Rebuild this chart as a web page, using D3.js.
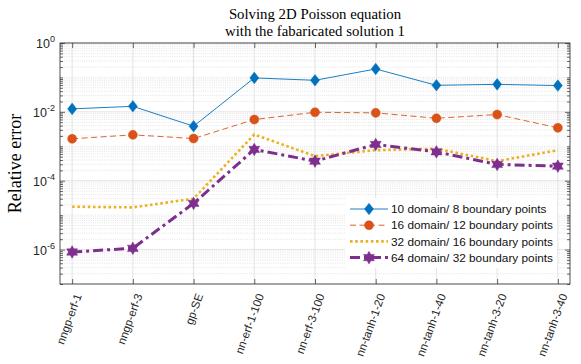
<!DOCTYPE html>
<html>
<head>
<meta charset="utf-8">
<script src="https://cdn.jsdelivr.net/npm/d3@7"></script>
<style>
  body { margin: 0; background: #fff; }
  svg { display: block; }
</style>
</head>
<body>
<div id="chart"></div>
<script>
const categories = ["nngp-erf-1", "nngp-erf-3", "gp-SE", "nn-erf-1-100", "nn-erf-3-100",
  "nn-tanh-1-20", "nn-tanh-1-40", "nn-tanh-3-20", "nn-tanh-3-40"]

const pts10 = [0.0122, 0.0145, 0.00383, 0.0968, 0.0825, 0.176, 0.059, 0.063, 0.058]
const pts16 = [0.00165, 0.00215, 0.00168, 0.00598, 0.00973, 0.00935, 0.00652, 0.00835, 0.00344]
const pts32 = [1.76e-5, 1.68e-5, 3.0e-5, 0.0022, 5.2e-4, 7.7e-4, 8.5e-4, 3.7e-4, 7.7e-4]
const pts64 = [8.5e-7, 1.09e-6, 2.2e-5, 8.1e-4, 3.7e-4, 1.13e-3, 6.9e-4, 2.97e-4, 2.65e-4]

const seriesNames = ["10 domain/ 8 boundary points", "16 domain/ 12 boundary points",
  "32 domain/ 16 boundary points", "64 domain/ 32 boundary points"]
const yTickValues = [1e0, 1e-2, 1e-4, 1e-6]
const titleLines = ["Solving 2D Poisson equation", "with the fabaricated solution 1"]

const width = 581
const height = 364
const margin = { left: 60, right: 11, top: 43, bottom: 80 }

const svg = d3.select("#chart")
  .append("svg")
  .attr("width", width)
  .attr("height", height)

const x = d3.scaleLinear()
  .domain([0.8, categories.length + 0.2])
  .range([margin.left, width - margin.right])

const y = d3.scaleLog()
  .domain([1e-7, 1])
  .range([height - margin.bottom, margin.top])

const x0 = x.range()[0], x1 = x.range()[1]
const y0 = y.range()[0], y1 = y.range()[1]

// grid
const minorVals = []
for (let e = -7; e < 0; e++) {
  for (let k = 1; k <= 9; k++) {
    const v = k * Math.pow(10, e)
    if (!(k === 1 && e % 2 === 0)) minorVals.push(v)
  }
}

const grid = svg.append("g")
grid.selectAll(".minor")
  .data(minorVals)
  .join("line")
  .attr("x1", x0).attr("x2", x1)
  .attr("y1", d => y(d)).attr("y2", d => y(d))
  .attr("stroke", "#d4d4d4")
  .attr("stroke-width", 0.6)
  .attr("stroke-dasharray", "1,1.2")

grid.selectAll(".major")
  .data(yTickValues)
  .join("line")
  .attr("x1", x0).attr("x2", x1)
  .attr("y1", d => y(d)).attr("y2", d => y(d))
  .attr("stroke", "#e3e3e3")
  .attr("stroke-width", 1)

grid.selectAll(".xgrid")
  .data(categories)
  .join("line")
  .attr("x1", (d, i) => x(i + 1)).attr("x2", (d, i) => x(i + 1))
  .attr("y1", y0).attr("y2", y1)
  .attr("stroke", "#e3e3e3")
  .attr("stroke-width", 1)

// axes with inward ticks
const axisColor = "#262626"
const yAxisL = d3.axisLeft(y).tickValues(yTickValues).tickSize(-5).tickFormat("")
const yAxisR = d3.axisRight(y).tickValues(yTickValues).tickSize(-5).tickFormat("")
const yMinorL = d3.axisLeft(y).tickValues(minorVals).tickSize(-3).tickFormat("")
const yMinorR = d3.axisRight(y).tickValues(minorVals).tickSize(-3).tickFormat("")
const xAxisB = d3.axisBottom(x).tickValues(d3.range(1, categories.length + 1)).tickSize(-5).tickFormat("")
const xAxisT = d3.axisTop(x).tickValues(d3.range(1, categories.length + 1)).tickSize(-5).tickFormat("")

function styleAxis(g) {
  g.selectAll("path, line").attr("stroke", axisColor).attr("stroke-width", 0.7)
  g.select(".domain").remove()
}

svg.append("g").attr("transform", `translate(${x0},0)`).call(yAxisL).call(styleAxis)
svg.append("g").attr("transform", `translate(${x1},0)`).call(yAxisR).call(styleAxis)
svg.append("g").attr("transform", `translate(${x0},0)`).call(yMinorL).call(styleAxis)
svg.append("g").attr("transform", `translate(${x1},0)`).call(yMinorR).call(styleAxis)
svg.append("g").attr("transform", `translate(0,${y0})`).call(xAxisB).call(styleAxis)
svg.append("g").attr("transform", `translate(0,${y1})`).call(xAxisT).call(styleAxis)

svg.append("rect")
  .attr("x", x0).attr("y", y1)
  .attr("width", x1 - x0).attr("height", y0 - y1)
  .attr("fill", "none")
  .attr("stroke", axisColor)
  .attr("stroke-width", 0.8)

// y tick labels
const yLab = svg.append("g")
  .attr("font-family", "Liberation Sans, Arial, sans-serif")
  .attr("fill", axisColor)
yTickValues.forEach(v => {
  const e = Math.round(Math.log10(v))
  const t = yLab.append("text")
    .attr("x", x0 - 5)
    .attr("y", y(v) + 5)
    .attr("text-anchor", "end")
    .attr("font-size", 12.5)
  t.append("tspan").text("10")
  t.append("tspan").attr("dy", -6).attr("font-size", 9).text(e === 0 ? "0" : "-" + (-e))
})

// x tick labels
svg.append("g")
  .selectAll("text")
  .data(categories)
  .join("text")
  .attr("transform", (d, i) => `translate(${x(i + 1) + 6},${y0 + 10}) rotate(-70)`)
  .attr("text-anchor", "end")
  .attr("dy", "0.35em")
  .attr("font-family", "Liberation Sans, Arial, sans-serif")
  .attr("font-size", 11.5)
  .attr("fill", axisColor)
  .text(d => d)

// title and y label
svg.append("g")
  .selectAll("text")
  .data(titleLines)
  .join("text")
  .attr("x", (x0 + x1) / 2)
  .attr("y", (d, i) => 19 + i * 16.5)
  .attr("text-anchor", "middle")
  .attr("font-family", "Liberation Serif, Times New Roman, serif")
  .attr("font-size", 14.8)
  .attr("fill", "#000")
  .text(d => d)

svg.append("text")
  .attr("transform", `translate(21,${(y0 + y1) / 2}) rotate(-90)`)
  .attr("text-anchor", "middle")
  .attr("font-family", "Liberation Serif, Times New Roman, serif")
  .attr("font-size", 18)
  .attr("fill", "#000")
  .text("Relative error")

// symbols
const diamondType = {
  draw(ctx, size) {
    const w = Math.sqrt(size) * 0.45, h = Math.sqrt(size) * 0.58
    ctx.moveTo(0, -h); ctx.lineTo(w, 0); ctx.lineTo(0, h); ctx.lineTo(-w, 0); ctx.closePath()
  }
}
const hexagramType = {
  draw(ctx, size) {
    const ro = Math.sqrt(size) * 0.6, ri = ro / Math.sqrt(3)
    for (let k = 0; k < 12; k++) {
      const a = -Math.PI / 2 + k * Math.PI / 6
      const r = k % 2 === 0 ? ro : ri
      if (k === 0) ctx.moveTo(r * Math.cos(a), r * Math.sin(a))
      else ctx.lineTo(r * Math.cos(a), r * Math.sin(a))
    }
    ctx.closePath()
  }
}

const series = [
  { name: seriesNames[0], values: pts10, color: "#0072BD", width: 0.9, dash: null, symbol: diamondType, size: 100 },
  { name: seriesNames[1], values: pts16, color: "#D95319", width: 0.9, dash: "6,3.5", symbol: d3.symbolCircle, size: 64 },
  { name: seriesNames[2], values: pts32, color: "#EDB120", width: 2.6, dash: "2.6,2.6", symbol: null, size: 0 },
  { name: seriesNames[3], values: pts64, color: "#7E2F8E", width: 3, dash: "10,4,3,4", symbol: hexagramType, size: 110 }
]

const line = d3.line()
  .x((d, i) => x(i + 1))
  .y(d => y(d))

const plot = svg.append("g")
series.forEach(s => {
  plot.append("path")
    .datum(s.values)
    .attr("d", line)
    .attr("fill", "none")
    .attr("stroke", s.color)
    .attr("stroke-width", s.width)
    .attr("stroke-dasharray", s.dash)
  if (s.symbol) {
    plot.selectAll(null)
      .data(s.values)
      .join("path")
      .attr("transform", (d, i) => `translate(${x(i + 1)},${y(d)})`)
      .attr("d", d3.symbol(s.symbol, s.size))
      .attr("fill", s.color)
      .attr("stroke", s.color)
      .attr("stroke-width", 0.5)
  }
})

// legend
const leg = svg.append("g").attr("transform", "translate(345,198)")
leg.append("rect")
  .attr("width", 212).attr("height", 70)
  .attr("fill", "#fff")
series.forEach((s, i) => {
  const ly = 11 + i * 16.2
  leg.append("line")
    .attr("x1", 5).attr("x2", 43)
    .attr("y1", ly).attr("y2", ly)
    .attr("stroke", s.color)
    .attr("stroke-width", s.width)
    .attr("stroke-dasharray", s.dash)
  if (s.symbol) {
    leg.append("path")
      .attr("transform", `translate(24,${ly})`)
      .attr("d", d3.symbol(s.symbol, s.size))
      .attr("fill", s.color)
      .attr("stroke", s.color)
      .attr("stroke-width", 0.5)
  }
  leg.append("text")
    .attr("x", 46).attr("y", ly + 4.2)
    .attr("font-family", "Liberation Sans, Arial, sans-serif")
    .attr("font-size", 11.8)
    .attr("fill", "#111")
    .text(s.name)
})
</script>
</body>
</html>
